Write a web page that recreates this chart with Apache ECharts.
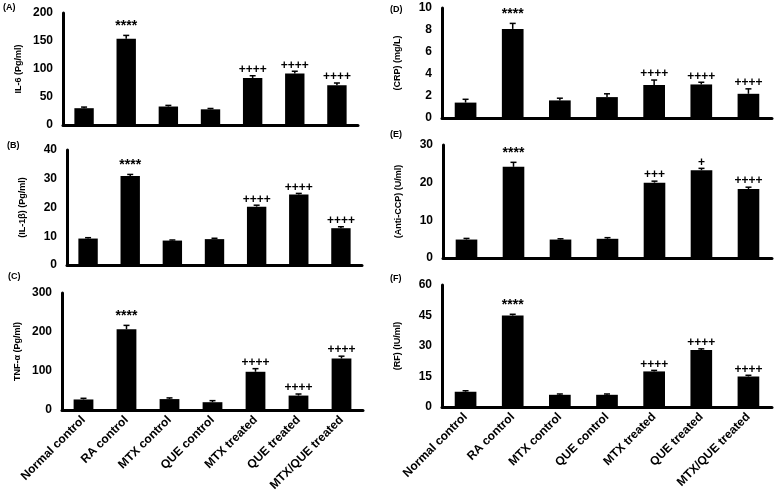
<!DOCTYPE html>
<html>
<head>
<meta charset="utf-8">
<title>RA markers</title>
<script src="https://cdn.jsdelivr.net/npm/echarts@6/dist/echarts.min.js"></script>
<style>
  html, body { margin: 0; padding: 0; background: #fff; }
  #main { width: 784px; height: 502px; }
</style>
</head>
<body>
<div id="main"></div>
<script>
// groups on the x axis
var categories = ['Normal control', 'RA control', 'MTX control', 'QUE control', 'MTX treated', 'QUE treated', 'MTX/QUE treated']

// (A) IL-6
var il6 = [30, 154, 33, 28, 84, 92, 71]
var il6Err = [2, 6, 2, 1.5, 4, 4, 4]
var il6Sig = ['', '****', '', '', '++++', '++++', '++++']
// (B) IL-1β
var il1b = [9.2, 31, 8.5, 9, 20.3, 24.5, 12.8]
var il1bErr = [0.3, 0.5, 0.2, 0.3, 0.5, 0.4, 0.5]
var il1bSig = ['', '****', '', '', '++++', '++++', '++++']
// (C) TNF-α
var tnf = [27, 207, 28, 20, 98, 37, 132]
var tnfErr = [3, 10, 3, 4, 8, 4, 6]
var tnfSig = ['', '****', '', '', '++++', '++++', '++++']
// (D) CRP
var crp = [1.4, 8.1, 1.6, 1.9, 3.0, 3.05, 2.2]
var crpErr = [0.3, 0.5, 0.2, 0.3, 0.45, 0.2, 0.45]
var crpSig = ['', '****', '', '', '++++', '++++', '++++']
// (E) Anti-CCP
var ccp = [4.9, 24.2, 4.9, 5.1, 20, 23.3, 18.3]
var ccpErr = [0.3, 1.2, 0.2, 0.3, 0.4, 0.5, 0.5]
var ccpSig = ['', '****', '', '', '+++', '+', '++++']
// (F) RF
var rf = [7.5, 45, 6, 6, 17.5, 28, 15]
var rfErr = [0.5, 0.6, 0.4, 0.4, 0.5, 0.6, 0.6]
var rfSig = ['', '****', '', '', '++++', '++++', '++++']

var panels = [
  { tag: '(A)', name: 'IL-6 (Pg/ml)', data: il6, err: il6Err, sig: il6Sig, max: 200, step: 50, labels: false },
  { tag: '(B)', name: '(IL-1β) (Pg/ml)', data: il1b, err: il1bErr, sig: il1bSig, max: 40, step: 10, labels: false },
  { tag: '(C)', name: 'TNF-α (Pg/ml)', data: tnf, err: tnfErr, sig: tnfSig, max: 300, step: 100, labels: true },
  { tag: '(D)', name: '(CRP) (mg/L)', data: crp, err: crpErr, sig: crpSig, max: 10, step: 2, labels: false },
  { tag: '(E)', name: '(Anti-CCP) (U/ml)', data: ccp, err: ccpErr, sig: ccpSig, max: 30, step: 10, labels: false },
  { tag: '(F)', name: '(RF) (IU/ml)', data: rf, err: rfErr, sig: rfSig, max: 60, step: 15, labels: true }
]

// plot areas, in px
var boxes = [
  { left: 63, top: 13, width: 295, height: 112 },
  { left: 67, top: 150, width: 295, height: 115 },
  { left: 62, top: 293, width: 301, height: 117 },
  { left: 442, top: 8, width: 330, height: 110 },
  { left: 443, top: 145, width: 329, height: 113 },
  { left: 442, top: 285, width: 330, height: 122 }
]
var tagPos = [[3, 8], [7, 146], [8, 277], [390, 10], [390, 135], [390, 279]]

var font = 'Liberation Sans, Arial, sans-serif'
var grids = [], xAxes = [], yAxes = [], series = [], graphics = []

panels.forEach(function(p, i) {
  grids.push(boxes[i])
  xAxes.push({
    type: 'category',
    gridIndex: i,
    data: categories,
    axisLine: { lineStyle: { color: '#000', width: 3 } },
    axisTick: { show: false },
    axisLabel: {
      show: p.labels,
      interval: 0,
      rotate: 45,
      margin: 8,
      color: '#000',
      fontFamily: font,
      fontWeight: 'bold',
      fontSize: 12
    }
  })
  yAxes.push({
    type: 'value',
    gridIndex: i,
    min: 0,
    max: p.max,
    interval: p.step,
    name: p.name,
    nameLocation: 'middle',
    nameRotate: 90,
    nameGap: 40,
    nameTextStyle: { color: '#000', fontFamily: font, fontWeight: 'bold', fontSize: 9 },
    axisLine: { show: true, lineStyle: { color: '#000', width: 3 } },
    axisTick: { show: false },
    splitLine: { show: false },
    axisLabel: { color: '#000', fontFamily: font, fontWeight: 'bold', fontSize: 12, margin: 10 }
  })
  series.push({
    type: 'bar',
    xAxisIndex: i,
    yAxisIndex: i,
    data: p.data,
    barWidth: '46%',
    itemStyle: { color: '#000' },
    silent: true
  })
  series.push({
    type: 'custom',
    xAxisIndex: i,
    yAxisIndex: i,
    data: p.data.map(function(v, k) { return [k, v, p.err[k]] }),
    z: 3,
    renderItem: function(params, api) {
      var k = api.value(0), v = api.value(1), e = api.value(2)
      var base = api.coord([k, v])
      var top = api.coord([k, v + e])
      var s = p.sig[params.dataIndex]
      var kids = [
        { type: 'line', shape: { x1: base[0], y1: base[1], x2: top[0], y2: top[1] }, style: { stroke: '#000', lineWidth: 1.5 } },
        { type: 'line', shape: { x1: top[0] - 3, y1: top[1], x2: top[0] + 3, y2: top[1] }, style: { stroke: '#000', lineWidth: 1.5 } }
      ]
      if (s) {
        var star = s.charAt(0) == '*'
        kids.push({
          type: 'text',
          x: top[0],
          y: top[1] - (star ? 2 : 6),
          style: {
            text: s,
            fill: '#000',
            font: 'bold ' + (star ? 14 : 12) + 'px ' + font,
            align: 'center',
            verticalAlign: star ? 'bottom' : 'middle'
          }
        })
      }
      return { type: 'group', children: kids }
    }
  })
  graphics.push({
    type: 'text',
    left: tagPos[i][0],
    top: tagPos[i][1] - 5,
    style: { text: p.tag, fill: '#000', font: 'bold 9px ' + font }
  })
})

var myChart = echarts.init(document.getElementById('main'))
myChart.setOption({
  animation: false,
  grid: grids,
  xAxis: xAxes,
  yAxis: yAxes,
  series: series,
  graphic: graphics
})
</script>
</body>
</html>
